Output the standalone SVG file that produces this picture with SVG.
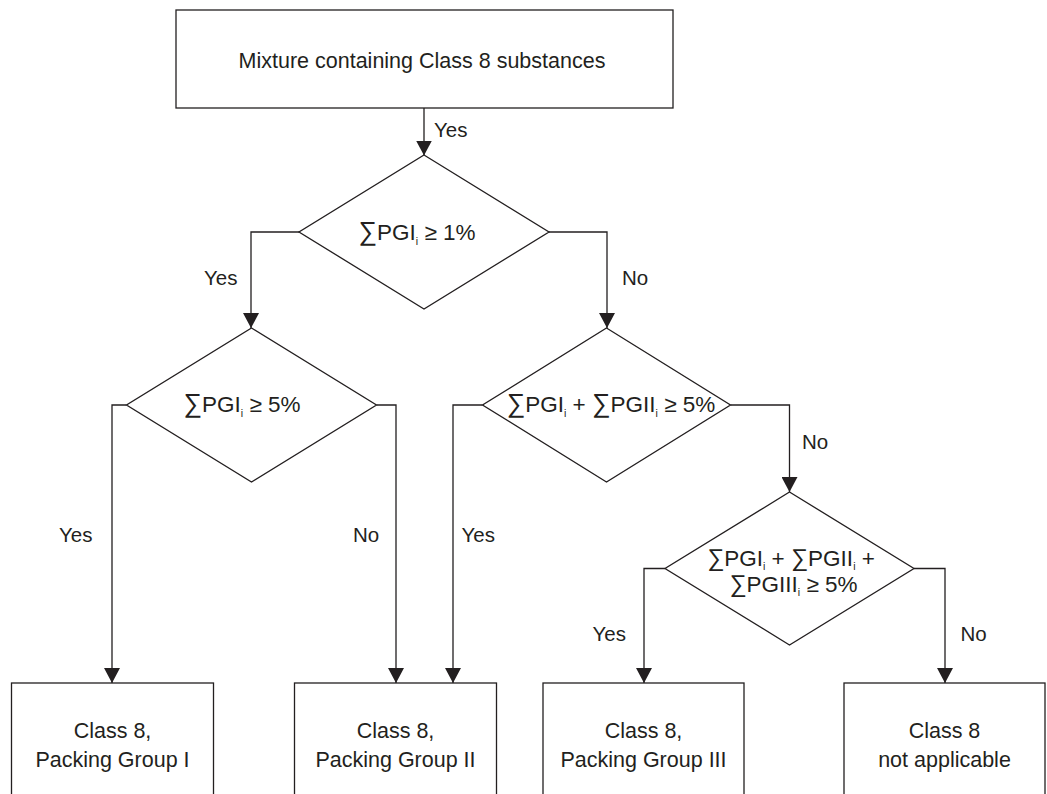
<svg xmlns="http://www.w3.org/2000/svg" width="1047" height="794" viewBox="0 0 1047 794">
<defs>
<marker id="ah" markerUnits="userSpaceOnUse" markerWidth="16" markerHeight="16" refX="15" refY="8" orient="auto">
<path d="M0,0 L15,8 L0,16 z" fill="#231f20"/>
</marker>
<style>
.box{fill:#fff;stroke:#231f20;stroke-width:1.3}
.dia{fill:#fff;stroke:#231f20;stroke-width:1.3}
.con{fill:none;stroke:#231f20;stroke-width:1.3;marker-end:url(#ah)}
text{font-family:"Liberation Sans",Arial,sans-serif;fill:#231f20}
.t{font-size:21.5px;text-anchor:middle}
.lbl{font-size:20.5px}
.m{font-size:22.5px;text-anchor:middle}
.sig{font-size:26px}
.sig2{font-size:24px}
.sub{font-size:10.5px}
</style>
</defs>
<rect width="1047" height="794" fill="#fff"/>
<g id="connectors">
<path class="con" d="M424,108 V155.5"/>
<path class="con" d="M299,232 H251 V328"/>
<path class="con" d="M549,232 H607 V328"/>
<path class="con" d="M126.5,405 H112 V683"/>
<path class="con" d="M376.5,405 H396 V683"/>
<path class="con" d="M482.5,405 H453 V683"/>
<path class="con" d="M730.5,405 H789.5 V492"/>
<path class="con" d="M665,568.5 H644 V683"/>
<path class="con" d="M914,568.5 H945 V683"/>
<text class="lbl" x="434" y="137">Yes</text>
<text class="lbl" x="204" y="285">Yes</text>
<text class="lbl" x="622" y="285">No</text>
<text class="lbl" x="802" y="449">No</text>
<text class="lbl" x="59" y="542">Yes</text>
<text class="lbl" x="353" y="542">No</text>
<text class="lbl" x="461.5" y="542">Yes</text>
<text class="lbl" x="592.5" y="640.5">Yes</text>
<text class="lbl" x="960.5" y="640.5">No</text>
</g>
<g id="start">
<rect class="box" x="176" y="10" width="497" height="98"/>
<text class="t" x="422" y="68">Mixture containing Class 8 substances</text>
</g>
<g id="d1">
<polygon class="dia" points="424,155 549,232 424,309 299,232"/>
<text class="m" x="417" y="240"><tspan class="sig">∑</tspan>PGI<tspan class="sub" dy="5">i</tspan><tspan dy="-5"> ≥ 1%</tspan></text>
</g>
<g id="d2">
<polygon class="dia" points="251.5,328 376.5,405 251.5,482 126.5,405"/>
<text class="m" x="242" y="412"><tspan class="sig">∑</tspan>PGI<tspan class="sub" dy="5">i</tspan><tspan dy="-5"> ≥ 5%</tspan></text>
</g>
<g id="d3">
<polygon class="dia" points="606.5,328 730.5,405 606.5,482 482.5,405"/>
<text class="m" x="611" y="412"><tspan class="sig">∑</tspan>PGI<tspan class="sub" dy="5">i</tspan><tspan dy="-5"> + </tspan><tspan class="sig">∑</tspan>PGII<tspan class="sub" dy="5">i</tspan><tspan dy="-5"> ≥ 5%</tspan></text>
</g>
<g id="d4">
<polygon class="dia" points="789.5,492 914,568.5 789.5,645 665,568.5"/>
<text class="m" x="791" y="566"><tspan class="sig2">∑</tspan>PGI<tspan class="sub" dy="4">i</tspan><tspan dy="-4"> + </tspan><tspan class="sig2">∑</tspan>PGII<tspan class="sub" dy="4">i</tspan><tspan dy="-4"> +</tspan></text>
<text class="m" x="793.5" y="591.5"><tspan class="sig2">∑</tspan>PGIII<tspan class="sub" dy="4">i</tspan><tspan dy="-4"> ≥ 5%</tspan></text>
</g>
<g id="pg1">
<rect class="box" x="11.5" y="683" width="202" height="120"/>
<text class="t" x="112.5" y="737.5">Class 8,</text>
<text class="t" x="112.5" y="766.5">Packing Group I</text>
</g>
<g id="pg2">
<rect class="box" x="294.5" y="683" width="202" height="120"/>
<text class="t" x="395.5" y="737.5">Class 8,</text>
<text class="t" x="395.5" y="766.5">Packing Group II</text>
</g>
<g id="pg3">
<rect class="box" x="543" y="683" width="201" height="120"/>
<text class="t" x="643.5" y="737.5">Class 8,</text>
<text class="t" x="643.5" y="766.5">Packing Group III</text>
</g>
<g id="na">
<rect class="box" x="844" y="683" width="201" height="120"/>
<text class="t" x="944.5" y="737.5">Class 8</text>
<text class="t" x="944.5" y="766.5">not applicable</text>
</g>
</svg>
